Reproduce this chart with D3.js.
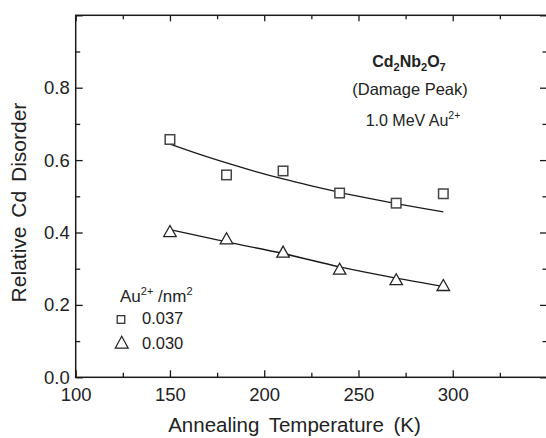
<!DOCTYPE html>
<html>
<head>
<meta charset="utf-8">
<script src="https://cdn.jsdelivr.net/npm/d3@7/dist/d3.min.js"></script>
<style>
  html, body { margin: 0; padding: 0; background: #fff; }
  svg { display: block; font-family: "Liberation Sans", Arial, Helvetica, sans-serif; }
</style>
</head>
<body>
<svg id="chart" width="546" height="438"></svg>
<script>
// ---- data ----
const temps = [150, 180, 210, 240, 270, 295];
const disorder037 = [0.657, 0.559, 0.570, 0.509, 0.481, 0.507];
const disorder030 = [0.404, 0.384, 0.347, 0.300, 0.271, 0.255];
const fitTemps037 = [150, 165, 180, 195, 210, 225, 240, 255, 270, 285, 295];
const fit037 = [0.644, 0.617, 0.592, 0.569, 0.548, 0.529, 0.511, 0.495, 0.480, 0.466, 0.457];
const fitTemps030 = [150, 180, 210, 240, 270, 295];
const fit030 = [0.408, 0.374, 0.342, 0.305, 0.274, 0.251];
const xMajorTicks = [100, 150, 200, 250, 300, 350];
const xMinorTicks = [125, 175, 225, 275, 325];
const yMajorTicks = [0.0, 0.2, 0.4, 0.6, 0.8, 1.0];
const yMinorTicks = [0.1, 0.3, 0.5, 0.7, 0.9];
const yTickLabels = ["0.0", "0.2", "0.4", "0.6", "0.8", ""];
const legendTitle = "Au";
const legendLabels = ["0.037", "0.030"];

(function () {
// ---- layout ----
const svg = d3.select("#chart");
const pLeft = 75.7, pRight = 547, pTop = 15.3, pBottom = 377.3;
const x = d3.scaleLinear().domain([100, 350]).range([pLeft, pRight]);
const y = d3.scaleLinear().domain([0, 1.0]).range([pBottom, pTop]);
const ink = "#1a1a1a";

// frame
svg.append("rect")
  .attr("x", pLeft).attr("y", pTop)
  .attr("width", pRight - pLeft).attr("height", pBottom - pTop)
  .attr("fill", "none").attr("stroke", ink).attr("stroke-width", 1.5);

function styleAxis(g) {
  g.select(".domain").remove();
  g.selectAll(".tick line").attr("stroke", ink).attr("stroke-width", 1.3);
  g.selectAll(".tick text").attr("fill", "#222").attr("font-size", 18.5)
    .attr("font-family", "Liberation Sans, Arial, sans-serif");
}

// bottom axis (major + minor), ticks inward
svg.append("g").attr("transform", `translate(0,${pBottom})`)
  .call(d3.axisBottom(x).tickValues(xMajorTicks).tickSize(-7).tickPadding(10.5)
    .tickFormat(d => d === 350 ? "" : d3.format("d")(d)))
  .call(styleAxis);
svg.append("g").attr("transform", `translate(0,${pBottom})`)
  .call(d3.axisBottom(x).tickValues(xMinorTicks).tickSize(-4.5).tickFormat(""))
  .call(styleAxis);
// top axis
svg.append("g").attr("transform", `translate(0,${pTop})`)
  .call(d3.axisTop(x).tickValues(xMajorTicks).tickSize(-6).tickFormat(""))
  .call(styleAxis);
svg.append("g").attr("transform", `translate(0,${pTop})`)
  .call(d3.axisTop(x).tickValues(xMinorTicks).tickSize(-4).tickFormat(""))
  .call(styleAxis);
// left axis
svg.append("g").attr("transform", `translate(${pLeft},0)`)
  .call(d3.axisLeft(y).tickValues(yMajorTicks).tickSize(-7).tickPadding(6)
    .tickFormat((d, i) => yTickLabels[i]))
  .call(styleAxis);
svg.append("g").attr("transform", `translate(${pLeft},0)`)
  .call(d3.axisLeft(y).tickValues(yMinorTicks).tickSize(-4.5).tickFormat(""))
  .call(styleAxis);
// right axis
svg.append("g").attr("transform", `translate(${pRight},0)`)
  .call(d3.axisRight(y).tickValues(yMajorTicks).tickSize(-7).tickFormat(""))
  .call(styleAxis);
svg.append("g").attr("transform", `translate(${pRight},0)`)
  .call(d3.axisRight(y).tickValues(yMinorTicks).tickSize(-4.5).tickFormat(""))
  .call(styleAxis);

// axis titles
svg.append("text")
  .attr("x", 294.5).attr("y", 431.5)
  .attr("text-anchor", "middle").attr("font-size", 20.5).attr("fill", "#222")
  .attr("word-spacing", 4)
  .text("Annealing Temperature (K)");
svg.append("text")
  .attr("transform", "translate(25.5,202.5) rotate(-90)")
  .attr("text-anchor", "middle").attr("font-size", 21).attr("fill", "#222")
  .attr("word-spacing", 3)
  .text("Relative Cd Disorder");

// fit curves
const line = d3.line().curve(d3.curveMonotoneX);
svg.append("path")
  .attr("d", line(fitTemps037.map((t, i) => [x(t), y(fit037[i])])))
  .attr("fill", "none").attr("stroke", ink).attr("stroke-width", 1.3);
svg.append("path")
  .attr("d", line(fitTemps030.map((t, i) => [x(t), y(fit030[i])])))
  .attr("fill", "none").attr("stroke", ink).attr("stroke-width", 1.3);

// markers
const sq = 9.5;
svg.append("g").selectAll("rect").data(temps).join("rect")
  .attr("x", (d) => x(d) - sq / 2)
  .attr("y", (d, i) => y(disorder037[i]) - sq / 2)
  .attr("width", sq).attr("height", sq)
  .attr("fill", "#fff").attr("stroke", "#444").attr("stroke-width", 1.5);

function tri(cx, cy, w, h) {
  return `M${cx - w / 2},${cy + h / 2}L${cx},${cy - h / 2}L${cx + w / 2},${cy + h / 2}Z`;
}
svg.append("g").selectAll("path").data(temps).join("path")
  .attr("d", (d, i) => tri(x(d), y(disorder030[i]), 12.5, 11))
  .attr("fill", "#fff").attr("stroke", "#222").attr("stroke-width", 1.3);

// annotation
const ann = svg.append("g").attr("fill", "#222");
const t1 = ann.append("text").attr("x", 409).attr("y", 67)
  .attr("text-anchor", "middle").attr("font-size", 16).attr("font-weight", "bold");
t1.append("tspan").text("Cd");
t1.append("tspan").attr("font-size", 11).attr("dy", 4).text("2");
t1.append("tspan").attr("dy", -4).text("Nb");
t1.append("tspan").attr("font-size", 11).attr("dy", 4).text("2");
t1.append("tspan").attr("dy", -4).text("O");
t1.append("tspan").attr("font-size", 11).attr("dy", 4).text("7");

ann.append("text").attr("x", 410).attr("y", 95)
  .attr("text-anchor", "middle").attr("font-size", 16.5)
  .text("(Damage Peak)");

const t3 = ann.append("text").attr("x", 413).attr("y", 126)
  .attr("text-anchor", "middle").attr("font-size", 16);
t3.append("tspan").text("1.0 MeV Au");
t3.append("tspan").attr("font-size", 10.5).attr("dy", -7).text("2+");

// legend
const lg = svg.append("g").attr("fill", "#222");
const lt = lg.append("text").attr("x", 120).attr("y", 302).attr("font-size", 17);
lt.append("tspan").text(legendTitle);
lt.append("tspan").attr("font-size", 11).attr("dy", -7).text("2+");
lt.append("tspan").attr("dy", 7).text(" /nm");
lt.append("tspan").attr("font-size", 11).attr("dy", -7).text("2");

lg.append("rect").attr("x", 121 - 3.8).attr("y", 319.5 - 3.8)
  .attr("width", 7.6).attr("height", 7.6)
  .attr("fill", "#fff").attr("stroke", "#222").attr("stroke-width", 1.2);
lg.append("text").attr("x", 142).attr("y", 323.5).attr("font-size", 16.5).text(legendLabels[0]);

lg.append("path").attr("d", tri(121.7, 342.2, 13, 12))
  .attr("fill", "#fff").attr("stroke", "#222").attr("stroke-width", 1.2);
lg.append("text").attr("x", 142).attr("y", 348.5).attr("font-size", 16.5).text(legendLabels[1]);
})();
</script>
</body>
</html>
